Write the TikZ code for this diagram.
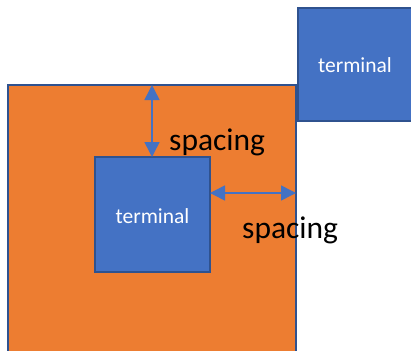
\documentclass[tikz,border=0pt]{standalone}
\usepackage{fontspec}
\setmainfont{Carlito}
\usetikzlibrary{arrows.meta}
\definecolor{org}{HTML}{ED7D31}
\definecolor{blu}{HTML}{4472C4}
\definecolor{bdr}{HTML}{2F528F}
\begin{document}
\begin{tikzpicture}[x=1pt,y=-1pt,
  box/.style={draw=bdr,line width=1.5pt,inner sep=0pt,outer sep=0pt},
  term/.style={box,fill=blu},
  tlab/.style={text=white,font=\fontsize{21.5}{24}\selectfont,inner sep=0pt},
  dim/.style={draw=blu,line width=1.5pt,{Triangle[length=15pt,width=15pt]}-{Triangle[length=15pt,width=15pt]}},
  lab/.style={font=\fontsize{31.5}{36}\selectfont,inner sep=0pt,anchor=base west}]
\useasboundingbox (0,0) rectangle (411,350);
\node[box,fill=org,anchor=north west,minimum width=288pt,minimum height=280pt] (outer) at (8,85) {};
\node[term,anchor=north west,minimum width=120pt,minimum height=113pt] (tr) at (298,8) {};
\node[tlab,anchor=base] (trl) at (355,73) {terminal};
\node[term,anchor=north west,minimum width=115pt,minimum height=115pt] (inner) at (95,157) {};
\node[tlab,anchor=base] (inl) at (152.5,223) {terminal};
\coordinate (vtop) at (152,85);
\coordinate (vbot) at (152,157);
\coordinate (hl) at (210,193);
\coordinate (hr) at (296,193);
\draw[dim] (vtop) -- (vbot);
\draw[dim] (hl) -- (hr);
\node[lab] (s1) at (169,150) {spacing};
\node[lab] (s2) at (242,238) {spacing};
\end{tikzpicture}
\end{document}
